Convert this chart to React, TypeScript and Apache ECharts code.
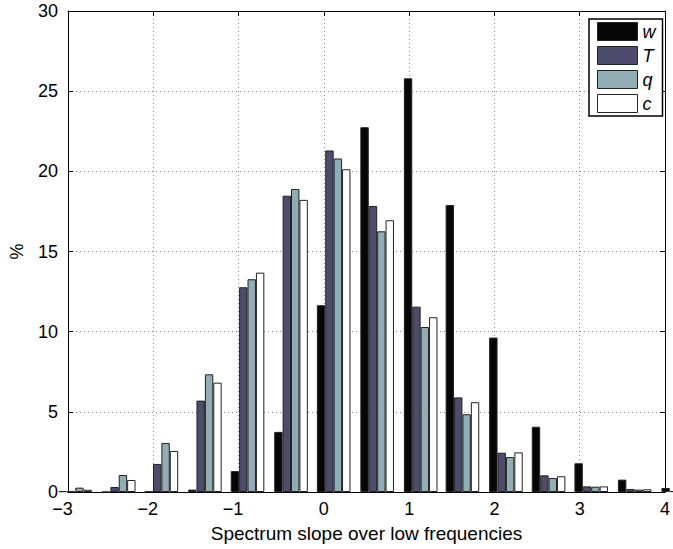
import React, { useEffect, useRef } from "react";
import * as echarts from "echarts";

// Histogram bin positions (centre of each group of four bars)
const binCenters = [-2.915, -2.405, -1.905, -1.395, -0.895, -0.385, 0.115, 0.625, 1.135, 1.625, 2.135, 2.635, 3.135, 3.645, 4.155];

const seriesNames = ["w", "T", "q", "c"];
const wValues = [0.05, 0, 0.03, 0.15, 1.3, 3.75, 11.65, 22.75, 25.8, 17.9, 9.63, 4.07, 1.79, 0.77, 0.25];
const tValues = [0.03, 0.31, 1.75, 5.7, 12.77, 18.48, 21.3, 17.84, 11.56, 5.9, 2.45, 1.04, 0.35, 0.19, 0.05];
const qValues = [0.27, 1.06, 3.06, 7.34, 13.27, 18.9, 20.8, 16.26, 10.29, 4.85, 2.18, 0.87, 0.33, 0.15, 0.05];
const cValues = [0.14, 0.75, 2.56, 6.82, 13.68, 18.22, 20.13, 16.95, 10.9, 5.6, 2.47, 0.98, 0.35, 0.17, 0.05];
const allValues = [wValues, tValues, qValues, cValues];
const colors = ["#060606", "#4d4c6d", "#93adb5", "#ffffff"];

const xMin = -3;
const xMax = 4;
const xStep = 1;
const yMin = 0;
const yMax = 30;
const yStep = 5;

const xTitle = "Spectrum slope over low frequencies";
const yTitle = "%";

const FONT = "'Liberation Sans', Arial, Helvetica, sans-serif";

export default function App() {
  const ref = useRef<HTMLDivElement>(null);
  useEffect(() => {
    if (!ref.current) return;
    const chart = echarts.init(ref.current, undefined, { renderer: "svg" });
    const gridLine = { show: true, lineStyle: { color: "#8a8a8a", width: 1, type: [1, 3] as any } };
    const axisLineStyle = { show: true, onZero: false, lineStyle: { color: "#000", width: 1 } };
    const tick = { show: true, inside: true, length: 5, lineStyle: { color: "#000" } };
    const xLabelFmt = (v: number) => (v < 0 ? `−${Math.abs(v)}{g| }` : `${v}`);
    const option: any = {
      animation: false,
      backgroundColor: "#fff",
      textStyle: { fontFamily: FONT },
      grid: { left: 60, right: 6, top: 11, bottom: 57, containLabel: false },
      legend: {
        orient: "vertical",
        left: 589,
        top: 19,
        padding: [3, 7, 3, 8],
        itemGap: 5,
        itemWidth: 40,
        itemHeight: 18,
        borderColor: "#000",
        borderWidth: 1.5,
        backgroundColor: "#fff",
        icon: "rect",
        itemStyle: { borderColor: "#222", borderWidth: 1 },
        textStyle: { fontFamily: FONT, fontSize: 18, fontStyle: "italic", color: "#000", lineHeight: 18 },
        data: seriesNames,
      },
      xAxis: [
        {
          type: "value",
          min: xMin,
          max: xMax,
          interval: xStep,
          position: "bottom",
          name: xTitle,
          nameLocation: "middle",
          nameGap: 32,
          nameTextStyle: { fontFamily: FONT, fontSize: 19, color: "#000" },
          axisLine: axisLineStyle,
          axisTick: tick,
          axisLabel: {
            fontFamily: FONT,
            fontSize: 18,
            color: "#000",
            margin: 8,
            formatter: xLabelFmt,
            rich: { g: { width: 11, fontSize: 18 } },
          },
          splitLine: gridLine,
        },
        {
          type: "value",
          min: xMin,
          max: xMax,
          interval: xStep,
          position: "top",
          axisLine: axisLineStyle,
          axisTick: tick,
          axisLabel: { show: false },
          splitLine: { show: false },
        },
      ],
      yAxis: [
        {
          type: "value",
          min: yMin,
          max: yMax,
          interval: yStep,
          position: "left",
          name: yTitle,
          nameLocation: "middle",
          nameGap: 42,
          nameTextStyle: { fontFamily: FONT, fontSize: 18, color: "#000" },
          axisLine: axisLineStyle,
          axisTick: tick,
          axisLabel: { fontFamily: FONT, fontSize: 18, color: "#000", margin: 10 },
          splitLine: gridLine,
        },
        {
          type: "value",
          min: yMin,
          max: yMax,
          interval: yStep,
          position: "right",
          axisLine: axisLineStyle,
          axisTick: tick,
          axisLabel: { show: false },
          splitLine: { show: false },
        },
      ],
      series: seriesNames.map((name, i) => ({
        name,
        type: "bar",
        xAxisIndex: 0,
        yAxisIndex: 0,
        barWidth: 8.4,
        barGap: "0%",
        clip: true,
        itemStyle: { color: colors[i], borderColor: "#222", borderWidth: 1 },
        data: binCenters.map((x, k) => [x, allValues[i][k]]),
      })),
    };
    chart.setOption(option);
    return () => chart.dispose();
  }, []);
  return (
    <div
      ref={ref}
      style={{ position: "fixed", left: 0, top: 0, width: 673, height: 549, background: "#fff" }}
    />
  );
}
